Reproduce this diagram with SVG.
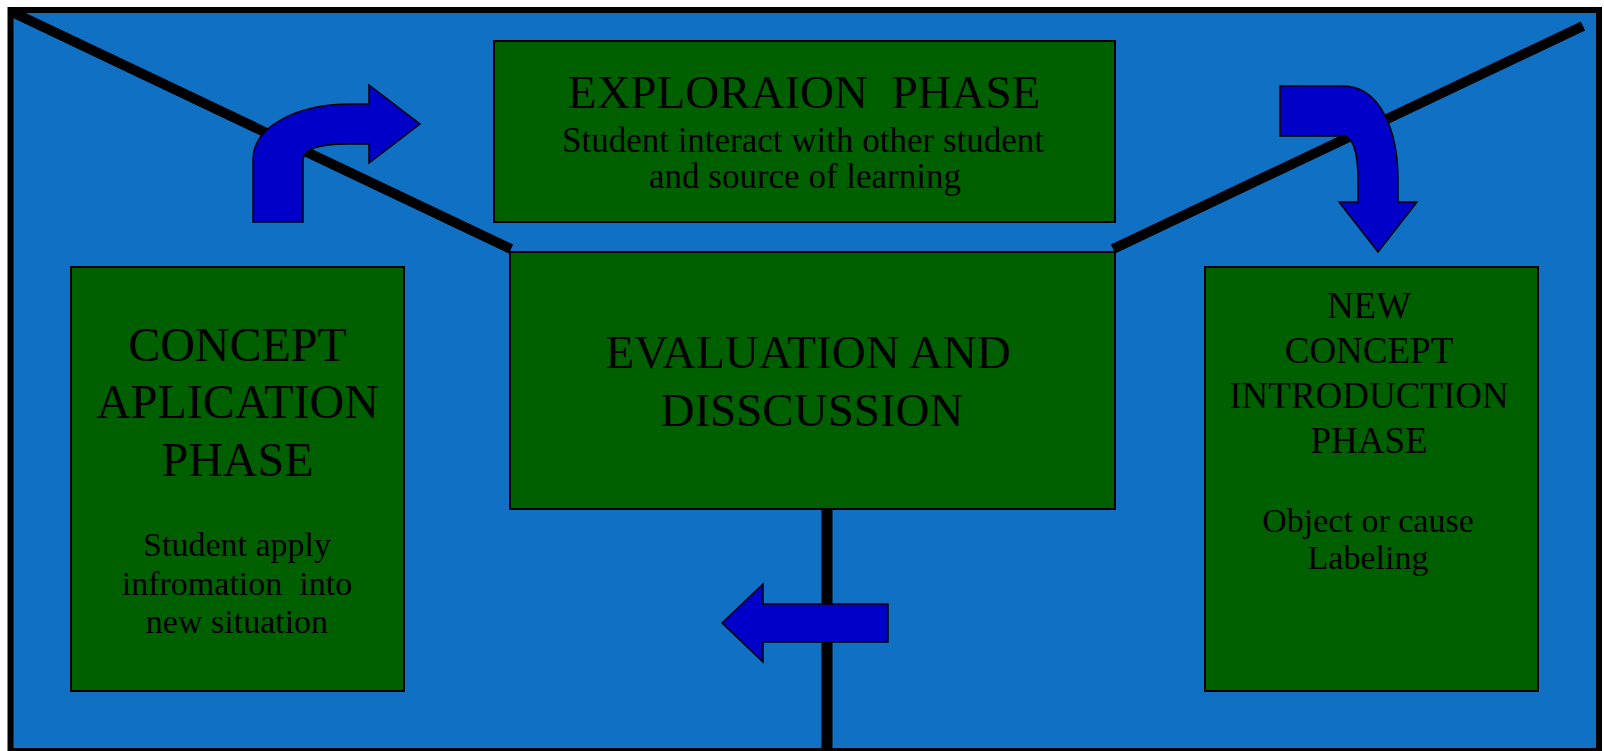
<svg xmlns="http://www.w3.org/2000/svg" width="1604" height="751" viewBox="0 0 1604 751">
  <style>
    .phase { fill: #006000; stroke: #000; stroke-width: 2; }
    .bar { stroke: #000; fill: none; }
    .turn { fill: #0000C8; stroke: #000; stroke-width: 1.5; stroke-linejoin: miter; }
    text { font-family: "Liberation Serif", "Times New Roman", serif; fill: #000; text-anchor: middle; white-space: pre; }
    .h1 { font-size: 47px; }
    .h2 { font-size: 48px; }
    .h3 { font-size: 37px; }
    .sub { font-size: 35px; }
    .sub2 { font-size: 34px; }
  </style>

  <!-- background panel -->
  <rect x="10.5" y="10" width="1588.5" height="741" fill="#1070C4" stroke="#000" stroke-width="6"/>

  <!-- connecting bars -->
  <g id="connectors">
    <line class="bar" x1="12" y1="12" x2="511" y2="249" stroke-width="10"/>
    <line class="bar" x1="1113" y1="249" x2="1583" y2="26" stroke-width="10"/>
    <line class="bar" x1="827" y1="509" x2="827" y2="751" stroke-width="11"/>
  </g>

  <g id="exploration">
    <rect class="phase" x="494" y="41" width="621" height="181"/>
    <text class="h1" x="804" y="108">EXPLORAION  PHASE</text>
    <text class="sub" x="803" y="152">Student interact with other student</text>
    <text class="sub" x="805" y="188">and source of learning</text>
  </g>

  <g id="evaluation">
    <rect class="phase" x="510" y="252" width="605" height="257"/>
    <text class="h1" x="808" y="368">EVALUATION AND</text>
    <text class="h1" x="812" y="426">DISSCUSSION</text>
  </g>

  <g id="concept-application">
    <rect class="phase" x="71" y="267" width="333" height="424"/>
    <text class="h2" x="237.5" y="361">CONCEPT</text>
    <text class="h2" x="237.5" y="418">APLICATION</text>
    <text class="h2" x="237.5" y="476">PHASE</text>
    <text class="sub2" x="237" y="556">Student apply</text>
    <text class="sub2" x="237" y="595">infromation  into</text>
    <text class="sub2" x="237" y="633">new situation</text>
  </g>

  <g id="new-concept">
    <rect class="phase" x="1205" y="267" width="333" height="424"/>
    <text class="h3" x="1369" y="318">NEW</text>
    <text class="h3" x="1369" y="363">CONCEPT</text>
    <text class="h3" x="1369" y="408">INTRODUCTION</text>
    <text class="h3" x="1369" y="453">PHASE</text>
    <text class="sub2" x="1368" y="532">Object or cause</text>
    <text class="sub2" x="1368" y="569">Labeling</text>
  </g>

  <!-- direction arrows -->
  <g id="arrows">
    <path class="turn" d="M253,222 L253,160 C253,125 300,104 350,104 L369,104 L369,85 L420,124 L369,163 L369,144 L347,144 C322,144 303,148 303,160 L303,222 Z"/>
    <path class="turn" d="M1280,86 L1343,86 C1380,86 1398,130 1398,180 L1398,202 L1417,202 L1378,252 L1339,202 L1358,202 L1358,180 C1358,150 1352,136 1343,136 L1280,136 Z"/>
    <path class="turn" d="M888,604 L763,604 L763,584 L722,623 L763,662 L763,642 L888,642 Z"/>
  </g>
</svg>
